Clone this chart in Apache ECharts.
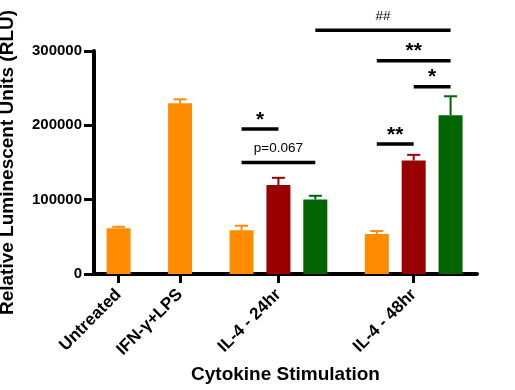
<!DOCTYPE html>
<html>
<head>
<meta charset="utf-8">
<script src="https://cdn.jsdelivr.net/npm/echarts@6/dist/echarts.min.js"></script>
<style>
  html, body { margin: 0; padding: 0; background: #fff; }
  #chart { width: 515px; height: 390px; }
</style>
</head>
<body>
<div id="chart"></div>
<script>
const categories = ['Untreated', 'IFN-γ+LPS', 'IL-4 - 24hr', 'IL-4 - 48hr'];
// bar means and error (upper) per group, bars in order orange / red / green
const means = [[61400], [229700], [58700, 119600, 100300], [53700, 152700, 213600]];
const errors = [[2100], [5300], [6200, 9800, 4900], [4100, 7600, 25500]];
const yTicks = [0, 100000, 200000, 300000];
// significance brackets: [first bar, last bar, height] using flat bar order
const brackets = [[2, 3, 195000], [2, 4, 150000], [5, 6, 175000], [6, 7, 252000], [5, 7, 287000], [4, 7, 328000]];
const bracketLabels = ['*', 'p=0.067', '**', '*', '**', '##'];

const colors = ['#FF8C00', '#990000', '#006400'];
const font = '"Liberation Sans", Arial, sans-serif';

// lay bars out along a value axis: each bar takes one slot, groups separated by a gap
const slot = 0.6, gap = 0.4;
const barX = [], barData = [], errData = [], groupCenters = [];
let cursor = -slot / 2;
means.forEach((grp, g) => {
  grp.forEach((v, j) => {
    const x = cursor + slot * (j + 0.5);
    barX.push(x);
    barData.push({ value: [x, v], itemStyle: { color: colors[j] } });
    errData.push([x, v, v + errors[g][j], j]);
  });
  groupCenters.push(cursor + grp.length * slot / 2);
  cursor += grp.length * slot + gap;
});
const bracketData = brackets.map(b => [barX[b[0]], barX[b[1]], b[2]]);

const myChart = echarts.init(document.getElementById('chart'));

const option = {
  animation: false,
  grid: { left: 94, right: 38, top: 51, bottom: 116, containLabel: false, outerBoundsMode: 'none' },
  xAxis: {
    type: 'value',
    min: -0.4,
    max: 5.83,
    name: 'Cytokine Stimulation',
    nameLocation: 'middle',
    nameGap: 91,
    nameTextStyle: { fontFamily: font, fontWeight: 'bold', fontSize: 19, color: '#000' },
    splitLine: { show: false },
    axisLine: { show: true, onZero: false, lineStyle: { color: '#000', width: 4 } },
    axisTick: { show: true, length: 9, customValues: groupCenters, lineStyle: { color: '#000', width: 3 } },
    axisLabel: {
      customValues: groupCenters,
      rotate: 45,
      margin: 18,
      fontFamily: font,
      fontWeight: 'bold',
      fontSize: 17,
      color: '#000',
      formatter: v => {
        const i = groupCenters.findIndex(c => Math.abs(c - v) < 1e-6);
        return i >= 0 ? categories[i] : '';
      }
    }
  },
  yAxis: {
    type: 'value',
    min: yTicks[0],
    max: yTicks[yTicks.length - 1],
    interval: yTicks[1] - yTicks[0],
    name: 'Relative Luminescent Units (RLU)',
    nameLocation: 'middle',
    nameGap: 77,
    nameTextStyle: { fontFamily: font, fontWeight: 'bold', fontSize: 19, color: '#000' },
    splitLine: { show: false },
    axisLine: { show: true, onZero: false, lineStyle: { color: '#000', width: 4 } },
    axisTick: { show: true, length: 10, lineStyle: { color: '#000', width: 3 } },
    axisLabel: { margin: 12, fontFamily: font, fontWeight: 'bold', fontSize: 15, color: '#000', formatter: v => String(v) }
  },
  series: [
    {
      type: 'bar',
      barWidth: 24,
      data: barData,
      z: 2
    },
    {
      type: 'custom',
      z: 3,
      data: errData,
      renderItem: (params, api) => {
        const x = api.value(0);
        const base = api.coord([x, api.value(1)]);
        const top = api.coord([x, api.value(2)]);
        const c = colors[api.value(3)];
        const style = { stroke: c, lineWidth: 2 };
        return {
          type: 'group',
          children: [
            { type: 'line', shape: { x1: base[0], y1: base[1], x2: top[0], y2: top[1] }, style },
            { type: 'line', shape: { x1: top[0] - 6.5, y1: top[1], x2: top[0] + 6.5, y2: top[1] }, style }
          ]
        };
      }
    },
    {
      type: 'custom',
      z: 4,
      clip: false,
      data: bracketData,
      renderItem: (params, api) => {
        const p1 = api.coord([api.value(0), api.value(2)]);
        const p2 = api.coord([api.value(1), api.value(2)]);
        const label = bracketLabels[params.dataIndex];
        const isStar = label.indexOf('*') >= 0;
        return {
          type: 'group',
          children: [
            { type: 'line', shape: { x1: p1[0], y1: p1[1], x2: p2[0], y2: p2[1] }, style: { stroke: '#000', lineWidth: 3.5 } },
            {
              type: 'text',
              x: (p1[0] + p2[0]) / 2,
              y: p1[1] - (isStar ? 9 : 14),
              style: {
                text: label,
                fontFamily: font,
                fontWeight: isStar ? 'bold' : 'normal',
                fontSize: isStar ? 21 : 13.5,
                fill: '#000',
                align: 'center',
                verticalAlign: 'middle'
              }
            }
          ]
        };
      }
    }
  ]
};
myChart.setOption(option);
</script>
</body>
</html>
